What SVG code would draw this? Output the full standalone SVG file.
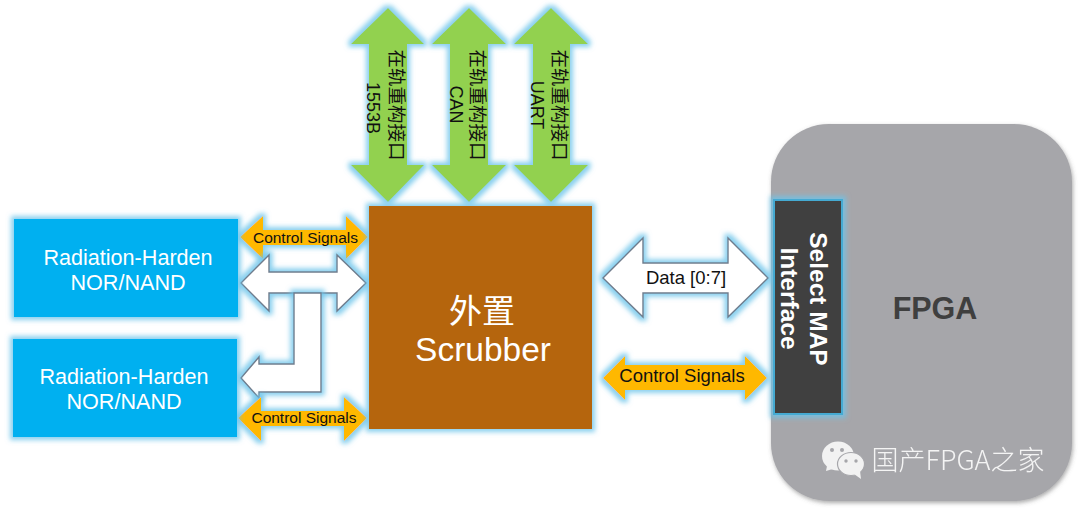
<svg xmlns="http://www.w3.org/2000/svg" width="1080" height="510" viewBox="0 0 1080 510">
<defs>
<filter id="glow" x="-20%" y="-20%" width="140%" height="140%">
<feMorphology in="SourceAlpha" operator="dilate" radius="2.5" result="d"/>
<feGaussianBlur in="d" stdDeviation="2.4" result="b"/>
<feFlood flood-color="#6cc4ea" flood-opacity="0.8"/>
<feComposite in2="b" operator="in" result="g"/>
<feMerge><feMergeNode in="g"/><feMergeNode in="SourceGraphic"/></feMerge>
</filter>
<filter id="shadow" x="-10%" y="-10%" width="120%" height="120%">
<feDropShadow dx="1" dy="2" stdDeviation="2" flood-color="#555" flood-opacity="0.5"/>
</filter>
<filter id="soft" x="-10%" y="-10%" width="120%" height="120%">
<feGaussianBlur stdDeviation="0.25"/>
</filter>
<style>
text{font-family:"Liberation Sans","Noto Sans CJK SC",sans-serif;text-anchor:middle}
.cjk{font-family:"Noto Sans CJK SC","Liberation Sans",sans-serif}
.white{fill:#fff;stroke:#6f7c8c;stroke-width:1.4;filter:url(#glow)}
.ctl{fill:#ffb800;filter:url(#glow)}
.grn{fill:#92d14f;filter:url(#glow)}
.blue{fill:#00b0f0;filter:url(#glow)}
.lbl{fill:#fff;font-size:21.6px}
.ink{fill:#111}
</style>
</defs>

<g id="fpga">
<rect x="771" y="124" width="301" height="377" rx="58" fill="#a6a6aa" filter="url(#shadow)"/>
<text x="935" y="319" font-size="30.5" font-weight="bold" fill="#3f3f3f">FPGA</text>
</g>

<g id="connectors">
<g id="green-arrows">
<path class="grn" d="M388 8L424 44H407V165H424L388 202L351 165H369V44H351Z"/>
<path class="grn" d="M469 8L506 44H488V165H506L469 202L432 165H450V44H432Z"/>
<path class="grn" d="M551 8L588 44H570V165H588L551 202L514 165H533V44H514Z"/>
</g>
<path id="ctl-top" class="ctl" d="M240 237L263 216V230H346V216L368 237L346 259V245H263V259Z"/>
<path id="data-left" class="white" d="M241 283L269 255V272H337V255L366 283L337 311V293H269V311Z"/>
<path id="data-branch" class="white" d="M294 293H321V392H259V398L241 378L259 357V364H294Z"/>
<path id="ctl-bottom" class="ctl" d="M238 418L261 397V411H344V397L367 418L344 441V426H261V441Z"/>
<path id="data-right" class="white" d="M603 278L643 238V263H728V238L768 278L728 317V293H643V317Z"/>
<path id="ctl-right" class="ctl" d="M603 378L625 356V365H745V356L767 378L745 400V390H625V400Z"/>
<text class="ink" x="305.500" y="243" font-size="15.5">Control Signals</text>
<text class="ink" x="304" y="423" font-size="15.5">Control Signals</text>
<text class="ink" x="686" y="284" font-size="18.500">Data [0:7]</text>
<text class="ink" x="682" y="382" font-size="18.500">Control Signals</text>
<text class="ink cjk" transform="translate(389.500 105) rotate(90)" font-size="18.500">在轨重构接口</text>
<text class="ink" transform="translate(367 108) rotate(90)" font-size="18">1553B</text>
<text class="ink cjk" transform="translate(471 105) rotate(90)" font-size="18.500">在轨重构接口</text>
<text class="ink" transform="translate(450 104.500) rotate(90)" font-size="18">CAN</text>
<text class="ink cjk" transform="translate(553 105) rotate(90)" font-size="18.500">在轨重构接口</text>
<text class="ink" transform="translate(531 105) rotate(90)" font-size="18">UART</text>
</g>

<g id="flash-1">
<rect class="blue" x="14" y="219" width="224" height="98"/>
<text class="lbl" x="128" y="265">Radiation-Harden</text>
<text class="lbl" x="128" y="290">NOR/NAND</text>
</g>
<g id="flash-2">
<rect class="blue" x="13" y="339" width="224" height="98"/>
<text class="lbl" x="124" y="384">Radiation-Harden</text>
<text class="lbl" x="124" y="409">NOR/NAND</text>
</g>
<g id="scrubber">
<rect x="369" y="206" width="223" height="223" fill="#b5650e" filter="url(#glow)"/>
<text class="cjk" x="482" y="323" font-size="33" fill="#fff">外置</text>
<text x="483" y="361" font-size="33.500" fill="#fff">Scrubber</text>
</g>
<g id="select-map">
<rect x="774" y="200" width="68" height="214" fill="#404040" stroke="#45aad2" stroke-width="2" filter="url(#glow)"/>
<text transform="translate(810 299) rotate(90)" font-size="24.500" font-weight="bold" fill="#fff">Select MAP</text>
<text transform="translate(781 298.500) rotate(90)" font-size="24.500" font-weight="bold" fill="#fff">Interface</text>
</g>

<g id="watermark">
<g fill="#f2f2f2">
<ellipse cx="838" cy="456" rx="16" ry="14.5"/>
<path d="M827 466L826 471L836 468Z"/>
</g>
<ellipse cx="851" cy="464" rx="13.500" ry="11.500" fill="#f2f2f2" stroke="#a6a6aa" stroke-width="1.2"/>
<path d="M854 474L861 479L860 471Z" fill="#f2f2f2"/>
<g fill="#a6a6aa">
<circle cx="832" cy="450" r="2"/><circle cx="842" cy="450" r="2"/>
<circle cx="846" cy="461" r="1.700"/><circle cx="856" cy="461" r="1.700"/>
</g>
<text class="cjk" x="958" y="470" font-size="27" font-weight="300" fill="#f4f4f4" filter="url(#soft)">国产FPGA之家</text>
</g>
</svg>
